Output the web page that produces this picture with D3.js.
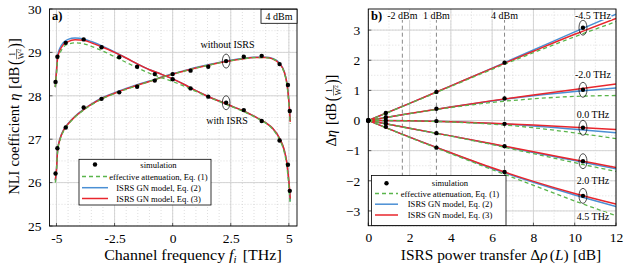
<!DOCTYPE html>
<html><head><meta charset="utf-8">
<script src="https://cdn.jsdelivr.net/npm/d3@7"></script>
<style>
body{margin:0;background:#fff}
svg{display:block;font-family:"Liberation Serif","DejaVu Serif",serif}
</style></head><body>
<svg id="c" width="628" height="268"></svg>
<script>
// ---------- DATA: panel a ----------
const simFreq = [-5.04,-4.96,-4.6,-3.83,-3.06,-2.3,-1.53,-0.77,0,0.77,1.53,2.3,3.06,3.83,4.6,4.96,5.04];
const simWithISRS = [28.32,28.9,29.22,29.3,29.12,28.89,28.67,28.5,28.38,28.17,27.98,27.84,27.67,27.42,26.97,26.41,25.81];
const simWithoutISRS = [26.21,26.79,27.27,27.73,27.93,28.08,28.21,28.35,28.5,28.58,28.67,28.8,28.9,28.92,28.73,28.25,27.65];
const curveFreq = [-5.05,-5.0,-4.95,-4.85,-4.7,-4.5,-4.2,-3.83,-3.5,-3.0,-2.5,-2.0,-1.5,-1.0,-0.5,0,0.5,1.0,1.5,2.0,2.5,3.0,3.5,4.0,4.3,4.6,4.8,4.9,4.97,5.03,5.06];
const withEq1 = [28.2,28.5,28.82,28.98,29.12,29.19,29.22,29.2,29.14,29.03,28.9,28.77,28.64,28.52,28.42,28.33,28.22,28.1,27.98,27.87,27.76,27.65,27.52,27.37,27.23,26.99,26.7,26.42,26.1,25.7,25.5];
const withEq2 = [28.2,28.58,28.92,29.1,29.23,29.3,29.33,29.31,29.25,29.14,29.01,28.87,28.73,28.6,28.5,28.39,28.26,28.12,27.99,27.88,27.77,27.66,27.53,27.38,27.25,27.02,26.75,26.5,26.18,25.8,25.58];
const withEq3 = [28.2,28.55,28.88,29.05,29.18,29.25,29.29,29.28,29.22,29.12,29.0,28.87,28.73,28.6,28.5,28.39,28.26,28.12,27.99,27.88,27.77,27.66,27.53,27.38,27.25,27.02,26.75,26.5,26.2,25.85,25.62];
const withoutEq1 = [26.0,26.27,26.72,26.98,27.18,27.34,27.51,27.67,27.79,27.94,28.05,28.15,28.24,28.33,28.42,28.5,28.57,28.64,28.7,28.76,28.81,28.85,28.88,28.88,28.85,28.73,28.53,28.3,28.0,27.58,27.35];
const withoutEq2 = [26.05,26.3,26.76,27.01,27.21,27.36,27.53,27.69,27.81,27.96,28.07,28.17,28.26,28.34,28.43,28.51,28.58,28.65,28.71,28.77,28.82,28.86,28.89,28.89,28.86,28.75,28.56,28.34,28.06,27.66,27.42];
const withoutEq3 = [26.05,26.3,26.75,27.0,27.2,27.35,27.52,27.68,27.8,27.95,28.06,28.16,28.25,28.33,28.42,28.5,28.57,28.64,28.7,28.76,28.81,28.85,28.88,28.88,28.85,28.74,28.55,28.33,28.05,27.65,27.4];
const aXTicks = [-5,-2.5,0,2.5,5];
const aXTickLabels = ["-5","-2.5","0","2.5","5"];
const aYTicks = [25,26,27,28,29,30];

// ---------- DATA: panel b ----------
const channels = ["-4.5 THz","-2.0 THz","0.0 THz","2.0 THz","4.5 THz"];
const simTransfer = [0,0.85,3.3,6.6,10.4];
const simDelta = [
  [0,0.25,0.95,1.92,3.08],
  [0,0.11,0.39,0.73,1.02],
  [0,0.0,-0.02,-0.11,-0.24],
  [0,-0.1,-0.42,-0.85,-1.35],
  [0,-0.21,-0.9,-1.71,-2.5]
];
const modelTransfer = [0,2,4,6,8,10,12];
const deltaEq1 = [
  [0,0.56,1.13,1.7,2.25,2.78,3.28],
  [0,0.23,0.43,0.6,0.72,0.8,0.83],
  [0,-0.01,-0.05,-0.12,-0.24,-0.41,-0.6],
  [0,-0.26,-0.52,-0.8,-1.1,-1.4,-1.69],
  [0,-0.56,-1.1,-1.63,-2.15,-2.67,-3.16]
];
const deltaEq2 = [
  [0,0.57,1.15,1.74,2.34,2.94,3.53],
  [0,0.23,0.45,0.65,0.82,0.96,1.08],
  [0,-0.01,-0.04,-0.1,-0.18,-0.29,-0.41],
  [0,-0.26,-0.51,-0.78,-1.06,-1.33,-1.6],
  [0,-0.55,-1.08,-1.59,-2.05,-2.47,-2.85]
];
const deltaEq3 = [
  [0,0.57,1.15,1.73,2.3,2.86,3.39],
  [0,0.23,0.45,0.66,0.85,1.03,1.21],
  [0,-0.01,-0.04,-0.09,-0.15,-0.22,-0.3],
  [0,-0.26,-0.51,-0.77,-1.04,-1.3,-1.56],
  [0,-0.55,-1.07,-1.57,-2.02,-2.42,-2.77]
];
const powerLines = [1.65,3.3,6.6];
const powerLabels = ["-2 dBm","1 dBm","4 dBm"];
const bXTicks = [0,2,4,6,8,10,12];
const bYTicks = [-3,-2,-1,0,1,2,3];

const legendLabels = ["simulation","effective attenuation, Eq. (1)","ISRS GN model, Eq. (2)","ISRS GN model, Eq. (3)"];

// ---------- STYLE ----------
const C = {blue:"#4a8fd4", red:"#e8262d", green:"#5ab54b"};
const svg = d3.select("#c");

function grid(g, x, y, xmin, xmaj, ymin, ymaj){
  const [x0,x1]=x.range(), [y0,y1]=y.range();
  g.selectAll(null).data(xmin).join("line").attr("x1",d=>x(d)).attr("x2",d=>x(d)).attr("y1",y0).attr("y2",y1)
    .attr("stroke","#c8c8c8").attr("stroke-width",0.6).attr("stroke-dasharray","1,2");
  g.selectAll(null).data(ymin).join("line").attr("y1",d=>y(d)).attr("y2",d=>y(d)).attr("x1",x0).attr("x2",x1)
    .attr("stroke","#c8c8c8").attr("stroke-width",0.6).attr("stroke-dasharray","1,2");
  g.selectAll(null).data(xmaj).join("line").attr("x1",d=>x(d)).attr("x2",d=>x(d)).attr("y1",y0).attr("y2",y1)
    .attr("stroke","#d0d0d0").attr("stroke-width",0.9);
  g.selectAll(null).data(ymaj).join("line").attr("y1",d=>y(d)).attr("y2",d=>y(d)).attr("x1",x0).attr("x2",x1)
    .attr("stroke","#d0d0d0").attr("stroke-width",0.9);
}
function frame(g,x,y){
  const [x0,x1]=x.range(), [y0,y1]=y.range();
  g.append("rect").attr("x",x0).attr("y",y1).attr("width",x1-x0).attr("height",y0-y1)
    .attr("fill","none").attr("stroke","#000").attr("stroke-width",0.9);
}
function ticksAxis(g, x, y, xt, xl, yt, yl){
  const ax = d3.axisBottom(x).tickValues(xt).tickFormat((d,i)=>xl[i]).tickSize(0).tickPadding(7);
  const gx = g.append("g").attr("transform",`translate(0,${y.range()[0]})`).call(ax);
  const ay = d3.axisLeft(y).tickValues(yt).tickFormat((d,i)=>yl[i]).tickSize(0).tickPadding(8);
  const gy = g.append("g").attr("transform",`translate(${x.range()[0]},0)`).call(ay);
  [gx,gy].forEach(a=>{a.select(".domain").remove();a.selectAll("text").attr("font-size",13.5).attr("font-family","Liberation Serif").attr("fill","#000");});
  g.selectAll(null).data(xt).join("line").attr("x1",d=>x(d)).attr("x2",d=>x(d)).attr("y1",y.range()[0]).attr("y2",y.range()[0]-3).attr("stroke","#000").attr("stroke-width",0.6);
  g.selectAll(null).data(yt).join("line").attr("y1",d=>y(d)).attr("y2",d=>y(d)).attr("x1",x.range()[0]).attr("x2",x.range()[0]+3).attr("stroke","#000").attr("stroke-width",0.6);
}
function seqText(parent, parts){
  const g = parent.append("g");
  let cx = 0;
  parts.forEach(p=>{
    if(p.frac){
      const fs=p.size;
      const n = g.append("text").attr("x",cx).attr("y",-4).attr("font-size",fs).text(p.num);
      const d = g.append("text").attr("x",cx).attr("y",4.5).attr("font-size",fs);
      d.append("tspan").text(p.den);
      d.append("tspan").attr("font-size",fs*0.7).attr("dy",-3).text("2");
      const w = Math.max(n.node().getComputedTextLength(), d.node().getComputedTextLength());
      n.attr("x",cx+w/2).attr("text-anchor","middle");
      d.attr("x",cx+w/2).attr("text-anchor","middle");
      g.append("line").attr("x1",cx).attr("x2",cx+w).attr("y1",-2.5).attr("y2",-2.5).attr("stroke","#000").attr("stroke-width",0.5);
      cx += w+0.8;
      return;
    }
    cx += (p.pre||0);
    const t = g.append("text").attr("x",cx).attr("y",p.dy||0).attr("font-size",p.size).attr("font-style",p.style||"normal").text(p.t);
    if(p.sx) t.attr("transform",`translate(${cx},0) scale(${p.sx},1) translate(${-cx},0)`);
    cx += t.node().getComputedTextLength()*(p.sx||1) + (p.dx||0);
  });
  return {g, w:cx};
}

// ---------- PANEL A ----------
const xA = d3.scaleLinear().domain([-5.3,5.35]).range([49.5,297]);
const yA = d3.scaleLinear().domain([25,30]).range([226,9]);
const gA = svg.append("g");
grid(gA,xA,yA,d3.range(-5,5.01,0.5),aXTicks,d3.range(25,30.01,0.5),aYTicks);
ticksAxis(gA,xA,yA,aXTicks,aXTickLabels,aYTicks,aYTicks.map(String));

const lineA = (ys)=>d3.line().x((d,i)=>xA(curveFreq[i])).y(d=>yA(d)).curve(d3.curveMonotoneX)(ys);
svg.append("clipPath").attr("id","clipA").append("rect").attr("x",49.5).attr("y",9).attr("width",247.5).attr("height",217);
const gAl = gA.append("g").attr("clip-path","url(#clipA)");
[[withEq2,withoutEq2,C.blue],[withEq3,withoutEq3,C.red]].forEach(([a,b,c])=>{
  [a,b].forEach(s=>gAl.append("path").attr("d",lineA(s)).attr("fill","none").attr("stroke",c).attr("stroke-width",1.5));
});
[withEq1,withoutEq1].forEach(s=>gAl.append("path").attr("d",lineA(s)).attr("fill","none").attr("stroke",C.green).attr("stroke-width",1.3).attr("stroke-dasharray","4,3"));
[simWithISRS,simWithoutISRS].forEach(s=>{
  gA.selectAll(null).data(s).join("circle").attr("cx",(d,i)=>xA(simFreq[i])).attr("cy",d=>yA(d)).attr("r",2.2).attr("fill","#000");
});
frame(gA,xA,yA);
gA.append("ellipse").attr("cx",xA(simFreq[11])).attr("cy",yA(simWithoutISRS[11])).attr("rx",3.8).attr("ry",7).attr("fill","none").attr("stroke","#000").attr("stroke-width",0.7);
gA.append("ellipse").attr("cx",xA(simFreq[11])).attr("cy",yA(simWithISRS[11])).attr("rx",3.8).attr("ry",7).attr("fill","none").attr("stroke","#000").attr("stroke-width",0.7);
gA.append("text").attr("x",227.5).attr("y",47.5).attr("text-anchor","middle").attr("font-size",10).text("without ISRS");
gA.append("text").attr("x",227).attr("y",124).attr("text-anchor","middle").attr("font-size",10).text("with ISRS");
gA.append("text").attr("x",52).attr("y",20).attr("font-size",12.5).attr("font-weight","bold").text("a)");
gA.append("rect").attr("x",261).attr("y",9.3).attr("width",36).attr("height",14).attr("fill","#fff").attr("stroke","#000").attr("stroke-width",0.8);
gA.append("text").attr("x",279).attr("y",20).attr("text-anchor","middle").attr("font-size",10).text("4 dBm");

// ---------- PANEL B ----------
const xB = d3.scaleLinear().domain([0,12]).range([368.3,616]);
const yB = d3.scaleLinear().domain([-3.49,3.7]).range([225.7,9]);
const gB = svg.append("g");
grid(gB,xB,yB,d3.range(0,12.01,1),bXTicks,d3.range(-3.5,3.51,0.5),bYTicks);
ticksAxis(gB,xB,yB,bXTicks,bXTicks.map(String),bYTicks,bYTicks.map(d=>d<0?"\u2212"+(-d):String(d)));
gB.selectAll(null).data(powerLines).join("line").attr("x1",d=>xB(d)).attr("x2",d=>xB(d)).attr("y1",yB.range()[0]).attr("y2",yB.range()[1])
  .attr("stroke","#555").attr("stroke-width",0.7).attr("stroke-dasharray","4,3");
svg.append("clipPath").attr("id","clipB").append("rect").attr("x",368.3).attr("y",9).attr("width",247.7).attr("height",216.7);
const gBl = gB.append("g").attr("clip-path","url(#clipB)");
const lineB = d3.line().x((d,i)=>xB(modelTransfer[i])).y(d=>yB(d)).curve(d3.curveMonotoneX);
deltaEq2.forEach(s=>gBl.append("path").attr("d",lineB(s)).attr("fill","none").attr("stroke",C.blue).attr("stroke-width",1.5));
deltaEq3.forEach(s=>gBl.append("path").attr("d",lineB(s)).attr("fill","none").attr("stroke",C.red).attr("stroke-width",1.5));
deltaEq1.forEach(s=>gBl.append("path").attr("d",lineB(s)).attr("fill","none").attr("stroke",C.green).attr("stroke-width",1.3).attr("stroke-dasharray","4,3"));
simDelta.forEach(s=>{
  gB.selectAll(null).data(s).join("circle").attr("cx",(d,i)=>xB(simTransfer[i])).attr("cy",d=>yB(d)).attr("r",2.2).attr("fill","#000");
  gB.append("ellipse").attr("cx",xB(simTransfer[4])).attr("cy",yB(s[4])).attr("rx",4).attr("ry",7.5).attr("fill","none").attr("stroke","#000").attr("stroke-width",0.7);
});
const chLabelY = [15,74,114,180,216.5];
gB.selectAll(null).data(channels).join("text").attr("x",593).attr("y",(d,i)=>chLabelY[i]+3.5).attr("text-anchor","middle")
  .attr("font-size",10).text(d=>d).attr("paint-order","stroke").attr("stroke","#fff").attr("stroke-width",2);
gB.selectAll(null).data(powerLabels).join("text").attr("x",(d,i)=>xB(powerLines[i])).attr("y",18.5).attr("text-anchor","middle")
  .attr("font-size",10).text(d=>d).attr("paint-order","stroke").attr("stroke","#fff").attr("stroke-width",2);
frame(gB,xB,yB);
gB.append("text").attr("x",371).attr("y",20).attr("font-size",12.5).attr("font-weight","bold").text("b)");

// ---------- LEGENDS ----------
function legend(x0,y0,w,h,rows,sx0,sx1,tx){
  const g = svg.append("g");
  g.append("rect").attr("x",x0).attr("y",y0).attr("width",w).attr("height",h).attr("fill","#fff").attr("stroke","#000").attr("stroke-width",0.8);
  g.append("circle").attr("cx",(sx0+sx1)/2).attr("cy",rows[0]).attr("r",2.2).attr("fill","#000");
  g.append("line").attr("x1",sx0).attr("x2",sx1).attr("y1",rows[1]).attr("y2",rows[1]).attr("stroke",C.green).attr("stroke-width",1.3).attr("stroke-dasharray","4,3");
  g.append("line").attr("x1",sx0).attr("x2",sx1).attr("y1",rows[2]).attr("y2",rows[2]).attr("stroke",C.blue).attr("stroke-width",1.5);
  g.append("line").attr("x1",sx0).attr("x2",sx1).attr("y1",rows[3]).attr("y2",rows[3]).attr("stroke",C.red).attr("stroke-width",1.5);
  g.selectAll(null).data(legendLabels).join("text").attr("x",tx).attr("y",(d,i)=>rows[i]+3).attr("text-anchor","middle").attr("font-size",8.6).text(d=>d);
}
legend(79,159.3,132,45.7,[164.5,176.5,187.7,198.5],82,108,158.5);
legend(371.5,175.5,134.5,50,[183.3,193.5,204.2,215],375,398,450);

// ---------- AXIS TITLES ----------
{
  const g = svg.append("g").attr("transform","translate(193,260) scale(1.14,1)");
  const t = g.append("text").attr("x",0).attr("y",0).attr("text-anchor","middle").attr("font-size",14);
  t.append("tspan").text("Channel frequency ");
  t.append("tspan").attr("font-style","italic").text("f");
  t.append("tspan").attr("font-style","italic").attr("font-size",9.5).attr("dy",3).text("i");
  t.append("tspan").attr("dy",-3).attr("dx",2).text(" [THz]");
}
{
  const g = svg.append("g").attr("transform","translate(501,260) scale(1.1,1)");
  const t = g.append("text").attr("x",0).attr("y",0).attr("text-anchor","middle").attr("font-size",14);
  t.append("tspan").text("ISRS power transfer \u0394");
  t.append("tspan").attr("font-style","italic").text("\u03C1");
  t.append("tspan").attr("dx",2).text("(");
  t.append("tspan").attr("font-style","italic").text("L");
  t.append("tspan").text(")");
  t.append("tspan").attr("dx",4).text("[dB]");
}
function yTitle(cx,cy,parts){
  const outer = svg.append("g").attr("transform",`translate(${cx},${cy}) rotate(-90)`);
  const r = seqText(outer, parts);
  r.g.attr("transform",`translate(${-r.w/2},5)`);
}
yTitle(14,116.5,[
  {t:"NLI",size:14.5,dx:4},{t:"coefficient",size:14.5,dx:4},{t:"\u03B7",size:14.5,style:"italic",dx:5},{t:"[dB",size:14.5,dx:2},
  {t:"(",size:19,dy:2,sx:0.8,dx:0.5},{frac:true,num:"1",den:"W",size:8},{t:")",size:19,dy:2,sx:0.8},{t:"]",size:14.5}
]);
yTitle(331,110.5,[
  {t:"\u0394",size:14.5},{t:"\u03B7",size:14.5,style:"italic",dx:5},{t:"[dB",size:14.5,dx:2},
  {t:"(",size:19,dy:2,sx:0.8,dx:0.5},{frac:true,num:"1",den:"W",size:8},{t:")",size:19,dy:2,sx:0.8},{t:"]",size:14.5}
]);
</script>
</body></html>
